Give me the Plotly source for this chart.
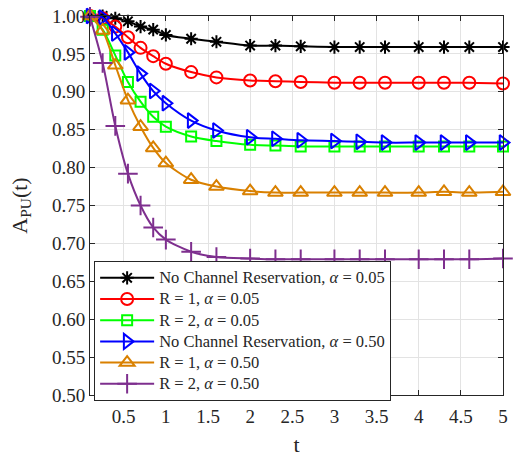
import plotly.graph_objects as go

# Time instants of the computed points
t = [0.1, 0.25, 0.4, 0.55, 0.7, 0.85, 1.0, 1.3, 1.6, 2.0,
     2.3, 2.6, 3.0, 3.3, 3.6, 4.0, 4.3, 4.6, 5.0]

# Availability of the primary user, A_PU(t)
no_res_a005 = [1.000, 1.000, 0.997, 0.993, 0.986, 0.982, 0.975, 0.970, 0.966, 0.961,
               0.961, 0.960, 0.959, 0.959, 0.959, 0.959, 0.959, 0.959, 0.959]
r1_a005 = [1.000, 0.997, 0.986, 0.972, 0.958, 0.947, 0.937, 0.926, 0.919, 0.915,
           0.914, 0.913, 0.912, 0.912, 0.912, 0.912, 0.912, 0.912, 0.911]
r2_a005 = [1.000, 0.982, 0.948, 0.913, 0.887, 0.867, 0.854, 0.841, 0.835, 0.830,
           0.829, 0.828, 0.828, 0.828, 0.828, 0.828, 0.828, 0.828, 0.828]
no_res_a050 = [1.000, 0.998, 0.977, 0.952, 0.924, 0.901, 0.885, 0.862, 0.849, 0.840,
               0.838, 0.836, 0.835, 0.834, 0.833, 0.833, 0.833, 0.833, 0.833]
r1_a050 = [1.000, 0.981, 0.935, 0.889, 0.854, 0.826, 0.806, 0.784, 0.775, 0.769,
           0.767, 0.767, 0.767, 0.767, 0.767, 0.767, 0.768, 0.767, 0.768]
r2_a050 = [0.999, 0.938, 0.855, 0.792, 0.750, 0.721, 0.705, 0.689, 0.682, 0.680,
           0.679, 0.679, 0.679, 0.679, 0.679, 0.679, 0.679, 0.679, 0.680]

series_names = [
    "No Channel Reservation, <i>α</i> = 0.05",
    "R = 1, <i>α</i> = 0.05",
    "R = 2, <i>α</i> = 0.05",
    "No Channel Reservation, <i>α</i> = 0.50",
    "R = 1, <i>α</i> = 0.50",
    "R = 2, <i>α</i> = 0.50",
]
series_values = [no_res_a005, r1_a005, r2_a005, no_res_a050, r1_a050, r2_a050]
colors = ["#000000", "#FF0000", "#00FF00", "#0000FF", "#D98000", "#7E2F8E"]
symbols = ["asterisk-open", "circle-open", "square-open",
           "triangle-right-open", "triangle-up-open", "cross-thin-open"]
sizes = [11, 12, 10, 13, 13, 14]

y_ticks = [0.50 + 0.05 * i for i in range(11)]
x_ticks = [0.5, 1, 1.5, 2, 2.5, 3, 3.5, 4, 4.5, 5]

SERIF = "Liberation Serif"
AXIS_GRAY = "#262626"


def legend_label(text):
    # legend rows are spaced by the legend font; the label itself is drawn a bit larger
    return f'<span style="font-size:16.5px">{text}</span>'


fig = go.Figure()
for name, vals, col, sym, sz in zip(series_names, series_values, colors, symbols, sizes):
    fig.add_trace(go.Scatter(
        x=t, y=vals, name=legend_label(name), mode="lines+markers",
        line=dict(color=col, width=2, shape="spline", smoothing=0.8),
        marker=dict(symbol=sym, size=sz, color=col, line=dict(color=col, width=2)),
        cliponaxis=False,
    ))

axis_common = dict(
    showline=True, linecolor=AXIS_GRAY, linewidth=1, mirror="allticks",
    ticks="inside", ticklen=5, tickcolor=AXIS_GRAY,
    showgrid=True, gridcolor="#E3E3E3", gridwidth=1,
    zeroline=False,
    tickfont=dict(family=SERIF, size=19, color=AXIS_GRAY),
)

fig.update_xaxes(
    range=[0.1, 5], tickvals=x_ticks, ticktext=[f"{v:g}" for v in x_ticks],
    ticklabelstandoff=4,
    title=dict(text="t", font=dict(family=SERIF, size=22, color=AXIS_GRAY), standoff=10),
    **axis_common,
)
fig.update_yaxes(
    range=[0.5, 1.0], tickvals=y_ticks, ticktext=[f"{v:.2f}" for v in y_ticks],
    title=dict(text="A<sub>PU</sub>(t)", font=dict(family=SERIF, size=22, color=AXIS_GRAY),
               standoff=18),
    **axis_common,
)

fig.update_layout(
    width=514, height=460,
    margin=dict(l=90, r=6, t=12, b=65),
    paper_bgcolor="white", plot_bgcolor="white",
    font=dict(family=SERIF, color=AXIS_GRAY),
    showlegend=True,
    legend=dict(
        x=0.01, y=0.353, xanchor="left", yanchor="top",
        bgcolor="white", bordercolor=AXIS_GRAY, borderwidth=1,
        font=dict(family=SERIF, size=14, color=AXIS_GRAY),
        itemwidth=54, tracegroupgap=0,
    ),
)

fig.write_html("out.html")
